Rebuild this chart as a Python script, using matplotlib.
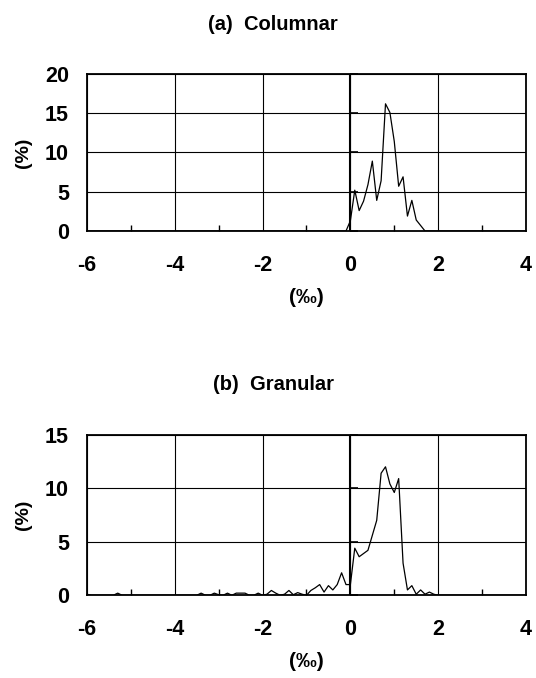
import matplotlib
matplotlib.use("Agg")
import matplotlib.pyplot as plt

plt.rcParams['font.family'] = ['Liberation Sans', 'DejaVu Sans']
plt.rcParams['font.weight'] = 'bold'
plt.rcParams['axes.unicode_minus'] = False

# (a) columnar: frequency (%) per 0.1 permil bin
col_x = [-6.0, -0.1, 0.0, 0.1, 0.2, 0.3, 0.4, 0.5, 0.6, 0.7, 0.8, 0.9,
         1.0, 1.1, 1.2, 1.3, 1.4, 1.5, 1.6, 1.7, 4.0]
col_y = [0, 0, 1.3, 5.2, 2.6, 3.8, 5.9, 8.9, 3.9, 6.4, 16.2, 15.1,
         11.4, 5.7, 6.9, 1.9, 3.9, 1.4, 0.7, 0, 0]

# (b) granular
gra_x = [-6.0, -5.9, -5.4, -5.3, -5.2, -3.5, -3.4, -3.3, -3.2, -3.1, -3.0,
         -2.9, -2.8, -2.7, -2.6, -2.5, -2.4, -2.3, -2.2, -2.1, -2.0, -1.9,
         -1.8, -1.7, -1.6, -1.5, -1.4, -1.3, -1.2, -1.1, -1.0, -0.9, -0.8,
         -0.7, -0.6, -0.5, -0.4, -0.3, -0.2, -0.1, 0.0, 0.1, 0.2, 0.3, 0.4,
         0.5, 0.6, 0.7, 0.8, 0.9, 1.0, 1.1, 1.2, 1.3, 1.4, 1.5, 1.6, 1.7,
         1.8, 1.9, 2.0, 4.0]
gra_y = [0.1, 0, 0, 0.2, 0, 0, 0.2, 0, 0, 0.2, 0.05,
         0, 0.2, 0, 0.2, 0.2, 0.2, 0, 0, 0.2, 0, 0.1,
         0.45, 0.2, 0, 0.1, 0.45, 0.05, 0.25, 0.1, 0, 0.45, 0.7,
         1.0, 0.3, 0.9, 0.5, 1.0, 2.1, 1.0, 1.0, 4.4, 3.6, 3.9, 4.2,
         5.6, 7.0, 11.4, 12.0, 10.4, 9.6, 10.9, 3.0, 0.5, 0.9, 0.1, 0.5, 0.1,
         0.3, 0.1, 0, 0]

x_ticks = [-6, -4, -2, 0, 2, 4]
x_minor = [-5, -3, -1, 1, 3]

fig = plt.figure(figsize=(5.36, 6.78), dpi=100)


def panel(rect, xs, ys, ymax, title, title_y):
    ax = fig.add_axes(rect)
    ax.plot(xs, ys, color='k', lw=0.9, zorder=3)
    ax.set_xlim(-6, 4)
    ax.set_ylim(0, ymax)
    yt = list(range(0, ymax + 1, 5))
    ax.set_xticks(x_ticks)
    ax.set_xticklabels([str(t) for t in x_ticks])
    ax.set_xticks(x_minor, minor=True)
    ax.set_yticks(yt)
    ax.tick_params(axis='x', which='major', length=0, pad=17, labelsize=15.5)
    ax.tick_params(axis='x', which='minor', direction='in', length=4,
                   width=1, color='k')
    ax.tick_params(axis='y', length=0, pad=13, labelsize=15.5)
    ax.grid(color='k', lw=0.8)
    ax.set_axisbelow(True)
    for s in ax.spines.values():
        s.set_linewidth(1.3)
    # value axis crosses at zero
    ax.axvline(0, color='k', lw=1.5, zorder=2)
    ax.plot([0] * len(yt), yt, ls='none', marker=1, ms=6, mew=1.2,
            color='k', zorder=2, clip_on=False)
    ax.set_xlabel('(‰)', fontsize=15, fontweight='bold', labelpad=9)
    ax.set_ylabel('(%)', fontsize=14, fontweight='bold', labelpad=9)
    fig.text(0.51, title_y, title, ha='center', va='center',
             fontsize=14.5, fontweight='bold')
    return ax


panel([0.1623, 0.6593, 0.819, 0.2316], col_x, col_y, 20,
      '(a)  Columnar', 1 - 25 / 678)
panel([0.1623, 0.122, 0.819, 0.2369], gra_x, gra_y, 15,
      '(b)  Granular', 1 - 384 / 678)

fig.savefig('out.png', dpi=100)
